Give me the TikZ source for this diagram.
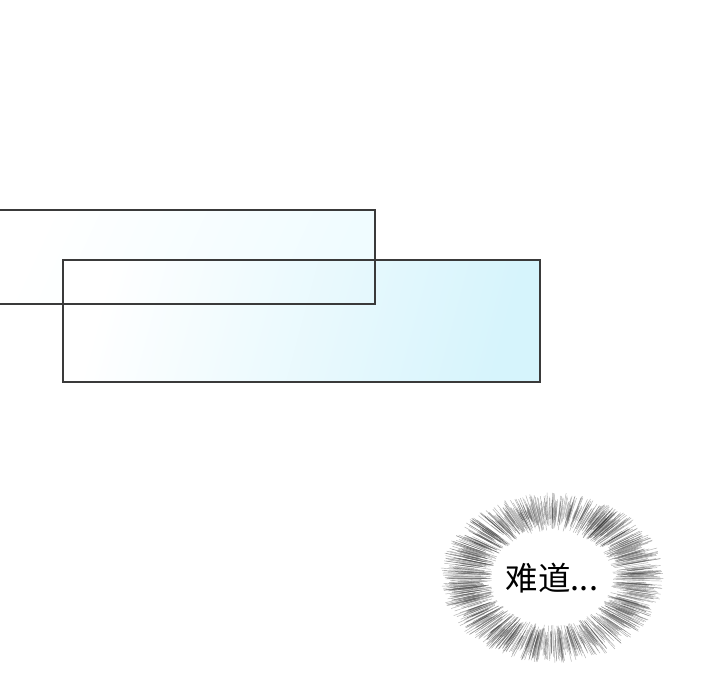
\documentclass[tikz,border=0pt]{standalone}
\usepackage{fontspec}
\newfontfamily\cjk{Noto Sans CJK SC}
\definecolor{panelline}{HTML}{3A3A3A}
\definecolor{skyA}{HTML}{F0FCFF}
\definecolor{skyB}{HTML}{D6F4FC}
\begin{document}
\begin{tikzpicture}[x=1pt, y=-1pt,
  panel/.style = {inner sep=0pt, outer sep=0pt},
  frame/.style = {draw=panelline, line width=1.1pt},
  spike/.style = {line width=0.45pt, black!75, opacity=0.42}]
\useasboundingbox[fill=white] (0,0) rectangle (720,700);
% panels
\node[panel, minimum width=380pt, minimum height=94pt, left color=white, right color=skyA, shading angle=65] (upper) at (185,257) {};
\node[panel, minimum width=477pt, minimum height=122pt, left color=white, right color=skyB, shading angle=75] (lower) at (301.5,321) {};
\draw[frame] (upper.north west) rectangle (upper.south east);
\draw[frame] (lower.north west) rectangle (lower.south east);
% bubble
\node (bubble) at (552,578) {\cjk\fontsize{32.5}{38}\selectfont 难道...};
\pgfmathsetseed{7}
\foreach \k in {1,...,1100}{
  \pgfmathsetmacro\ang{rnd*360}
  \pgfmathsetmacro\fin{1.0+0.35*rnd}
  \pgfmathsetmacro\fout{0.82+0.2*rnd}
  \pgfmathsetmacro\rix{60*\fin}
  \pgfmathsetmacro\riy{47*\fin}
  \pgfmathsetmacro\rox{110*\fout}
  \pgfmathsetmacro\roy{84*\fout}
  \draw[spike] ([shift={(\ang:\rix pt and \riy pt)}]bubble.center) -- ([shift={(\ang:\rox pt and \roy pt)}]bubble.center);
}
\end{tikzpicture}
\end{document}
